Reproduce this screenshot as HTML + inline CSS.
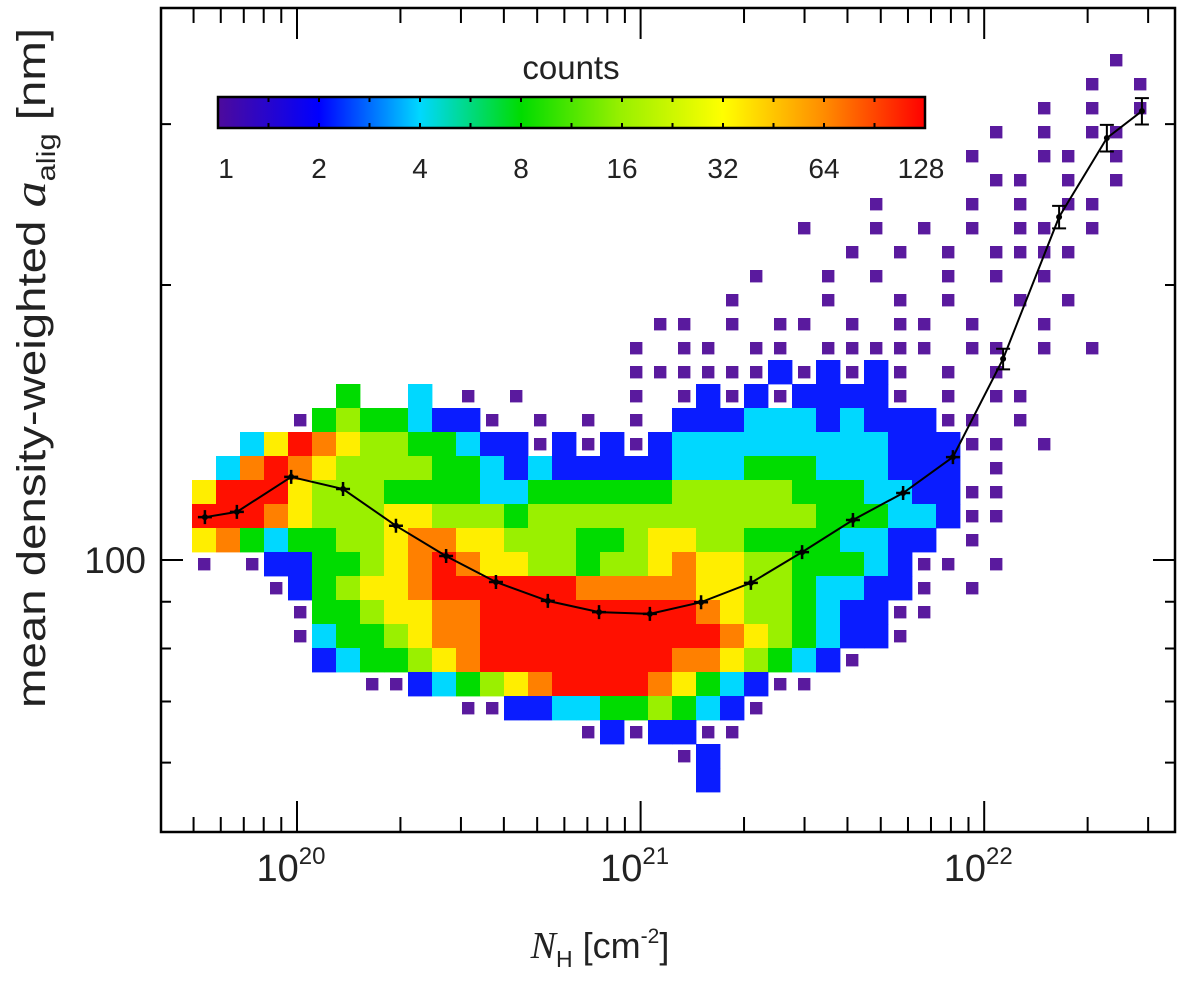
<!DOCTYPE html>
<html><head><meta charset="utf-8"><style>
html,body{margin:0;padding:0;background:#fff;}
svg{display:block;}
text{font-family:"Liberation Sans",sans-serif;fill:#222;}
</style></head><body>
<svg id="chart" width="1200" height="985" viewBox="0 0 1200 985" xmlns="http://www.w3.org/2000/svg">
<defs>
<linearGradient id="cmap" x1="0" x2="1" y1="0" y2="0">
<stop offset="0" stop-color="#4d0a9c"/>
<stop offset="0.1429" stop-color="#0000ff"/>
<stop offset="0.2857" stop-color="#00d8ff"/>
<stop offset="0.4286" stop-color="#00dc00"/>
<stop offset="0.5714" stop-color="#9af000"/>
<stop offset="0.7143" stop-color="#ffff00"/>
<stop offset="0.8571" stop-color="#ff8c00"/>
<stop offset="1" stop-color="#ff0000"/>
</linearGradient>
</defs>
<g id="cells"></g>
<g id="series"></g>
<g id="axes"></g>
<g>
<text x="571" y="79" font-size="33" text-anchor="middle">counts</text>
<rect x="218" y="97" width="707" height="31" fill="url(#cmap)" stroke="#000" stroke-width="2.5"/>
<g id="cbticks"></g>
</g>
<text transform="translate(45,708) rotate(-90)" font-size="40" textLength="680" lengthAdjust="spacingAndGlyphs">mean density-weighted <tspan font-family="Liberation Serif,serif" font-style="italic" font-size="44">a</tspan><tspan font-size="26" dy="10">alig</tspan><tspan dy="-10"> [nm]</tspan></text>
<text x="600" y="958" font-size="36" text-anchor="middle"><tspan font-family="Liberation Serif,serif" font-style="italic" font-size="38">N</tspan><tspan font-size="23" dy="9">H</tspan><tspan dy="-9"> [cm</tspan><tspan font-size="21" dy="-15">-2</tspan><tspan dy="15">]</tspan></text>
</svg>
<script>
// histogram grid definition (data units: log10 NH, log10 a)
const colStartLog = 19.6944;
const colStepLog = 0.06985;
const rowTopLog = 2.5604;
const rowStepLog = 0.02627;
// each char = log2(count): '.' empty, 0..7 -> 1..128 counts
const gridRows = [
"......................................0.",
".....................................0.0",
"...................................0.0.0",
".................................0.0.00.",
"................................0..00.0.",
".................................00.0.0.",
"............................0...0.0.00..",
".........................0..0.0.0.00.0..",
"...........................0.0.0.0000...",
".......................0..0.0..0.0.0....",
"......................0...0..0.0..0.0...",
"...................00.0.00.0.00.0..0....",
"..................0.00.00.00000.00.0.0..",
"..................000000101010.0.0......",
"......3..2.0.0....0.0101011110.0.00.....",
"....034332110.0.0.0.1112221211100.0.....",
"..25765443321101010122222222211100.0....",
".2676544443321211111222333222111.0......",
"5777544433332233333344444333221100......",
"7776544455444344444444444433322100......",
"5632334456655444334554433332211.0.......",
"0.011334567655443445655443332100.0......",
"...0134556777777666665544322110.0.......",
"....033455667777777776544321100.........",
"....02334566777777777765432110..........",
".....12334567777777766543210............",
".......0012345677776532100..............",
"...........0011223343210................",
"................0101100.................",
"....................01..................",
".....................1.................."
];
// mean curve (log10 NH) and mean a_alig [nm], error half-width [nm]
const nhLog = [19.732,19.825,19.983,20.134,20.288,20.434,20.579,20.730,20.879,21.027,21.176,21.321,21.470,21.618,21.764,21.909,22.055,22.218,22.357,22.459];
const meanA = [111.4,112.9,123.3,119.6,109.0,101.0,94.6,90.2,87.7,87.3,89.9,94.4,102.0,110.6,118.4,129.6,166.0,237.4,289.7,310.0];
const errA = [0,0,0,0,0,0,0,0,0,0,0,0,0,0,0,0,4.3,6.7,9.7,10.3];
const cbLabels = ["1","2","4","8","16","32","64","128"];
const levelColors = ["#5a1a9e","#0a1cff","#00d8ff","#00dc00","#9af000","#ffee00","#ff8000","#ff1000"];
// sparse single-count bins are drawn with partial fill (fraction of bin occupied)
const levelFill = [0.5,1,1,1,1,1,1,1];
const xMajor = [20,21,22];
const yTicks = [60,70,80,90,100,200,300];

const NS="http://www.w3.org/2000/svg";
const L=161,R=1175,T=8,B=832;
function xs(lg){return 297+(lg-20)*343.6;}
function ys(a){return 560-(Math.log10(a)-2)*913.6;}
function ysl(lg){return 560-(lg-2)*913.6;}
function mk(tag,attrs,parent){const e=document.createElementNS(NS,tag);for(const k in attrs)e.setAttribute(k,attrs[k]);parent.appendChild(e);return e;}

const cells=document.getElementById('cells');
gridRows.forEach((row,r)=>{
  for(let c=0;c<row.length;c++){
    const ch=row[c]; if(ch==='.') continue;
    const lv=+ch;
    const x0=xs(colStartLog+c*colStepLog), x1=xs(colStartLog+(c+1)*colStepLog);
    const y0=ysl(rowTopLog-r*rowStepLog), y1=ysl(rowTopLog-(r+1)*rowStepLog);
    const f=levelFill[lv];
    const w=(x1-x0)*f, h=(y1-y0)*f;
    const cx=(x0+x1)/2, cy=(y0+y1)/2;
    const e=mk('rect',{x:(cx-w/2).toFixed(1),y:(cy-h/2).toFixed(1),width:(w+0.4).toFixed(1),height:(h+0.4).toFixed(1),fill:levelColors[lv]},cells);
    
    
  }
});

const ser=document.getElementById('series');
const pts=nhLog.map((n,i)=>xs(n).toFixed(1)+','+ys(meanA[i]).toFixed(1)).join(' ');
const pl=mk('polyline',{points:pts,fill:'none',stroke:'#000','stroke-width':2},ser);


nhLog.forEach((n,i)=>{
  const x=xs(n),y=ys(meanA[i]);
  const g=mk('g',{},ser);
  
  
  if(errA[i]>0){
    const yt=ys(meanA[i]+errA[i]),yb=ys(meanA[i]-errA[i]);
    mk('path',{d:`M${x},${yt}V${yb}M${x-7},${yt}H${x+7}M${x-7},${yb}H${x+7}`,stroke:'#000','stroke-width':2,fill:'none'},g);
    mk('circle',{cx:x,cy:y,r:3,fill:'#000'},g);
  } else {
    mk('path',{d:`M${x-7},${y}H${x+7}M${x},${y-7}V${y+7}`,stroke:'#000','stroke-width':2.5},g);
    mk('circle',{cx:x,cy:y,r:3,fill:'#000'},g);
  }
});

const ax=document.getElementById('axes');
const fr=mk('rect',{x:L,y:T,width:R-L,height:B-T,fill:'none',stroke:'#000','stroke-width':2.5},ax);


let td='';
for(let d=19;d<=22;d++){
  for(let m=1;m<10;m++){
    const lg=d+Math.log10(m); const x=xs(lg);
    if(x<L+2||x>R-2) continue;
    const len=(m===1)?31:15;
    td+=`M${x},${B}V${B-len}M${x},${T}V${T+len}`;
  }
}
yTicks.forEach(v=>{const y=ys(v);const len=(v===100)?22:10;td+=`M${L},${y}H${L+len}M${R},${y}H${R-len}`;});
const tk=mk('path',{d:td,stroke:'#000','stroke-width':2,fill:'none'},ax);


xMajor.forEach(e=>{
  const t=mk('text',{x:xs(e)-6,y:881,'font-size':38,'text-anchor':'middle'},ax);
  
  
  t.innerHTML='10<tspan font-size="24" dy="-17">'+e+'</tspan>';
});
const yl=mk('text',{x:146,y:573,'font-size':37,'text-anchor':'end'},ax);


yl.textContent='100';

const cb=document.getElementById('cbticks');
for(let k=1;k<14;k++){
  const x=218+k*50.5;
  const p=mk('path',{d:`M${x},97v5M${x},128v-5`,stroke:'#000','stroke-width':2},cb);
  
  
}
cbLabels.forEach((s,i)=>{
  const x=218+i*101;
  const t=mk('text',{x:i===0?226:(i===7?921:x),y:178,'font-size':28,'text-anchor':'middle'},cb);
  
  
  t.textContent=s;
});
</script>
</body></html>
